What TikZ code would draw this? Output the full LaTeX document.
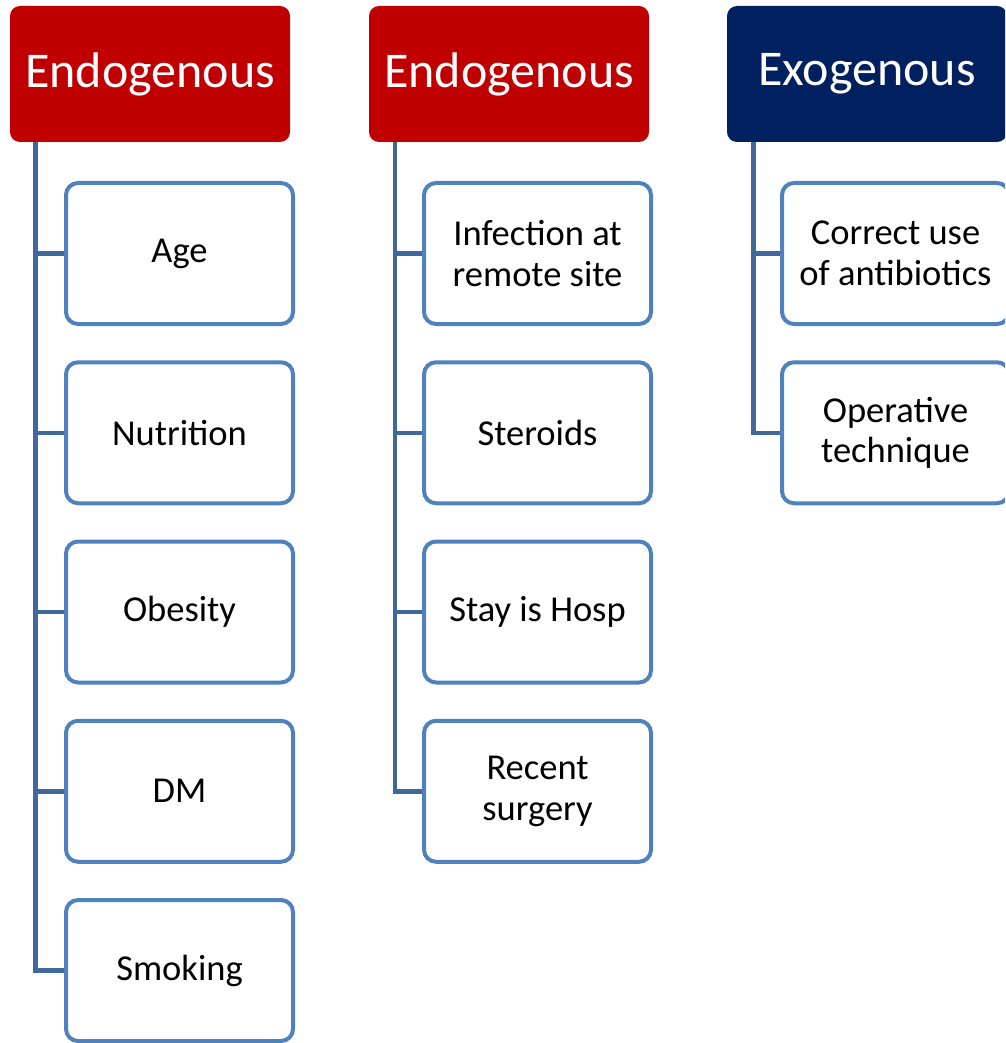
\documentclass[tikz,border=0pt]{standalone}
\usepackage{fontspec}
\setmainfont{Carlito}
\definecolor{hdred}{RGB}{192,0,0}
\definecolor{hdnavy}{RGB}{0,32,96}
\definecolor{boxblue}{RGB}{79,129,189}
\definecolor{connblue}{RGB}{65,104,155}
\begin{document}
\begin{tikzpicture}[x=1pt,y=-1pt,
  header/.style={rectangle, rounded corners=10pt, minimum width=280pt, minimum height=136pt,
    inner sep=0pt, text=white, font=\fontsize{50}{60}\selectfont},
  redhead/.style={header, fill=hdred},
  navyhead/.style={header, fill=hdnavy},
  item/.style={rectangle, rounded corners=12pt, draw=boxblue, line width=4pt, fill=white,
    minimum width=227pt, minimum height=141pt, inner sep=0pt, align=center,
    font=\fontsize{36.5}{40.5}\selectfont},
  conn/.style={draw=connblue, line width=4.5pt}
]
\useasboundingbox (0,0) rectangle (1005,1043);
\clip (0,0) rectangle (1005,1043);

% headers
\node[redhead] (h1) at (150,74) {Endogenous};
\node[redhead] (h2) at (509,74) {Endogenous};
\node[navyhead] (h3) at (867,74) {Exogenous};

% trunk tops
\coordinate (t1) at (35.5,142);
\coordinate (t2) at (395,142);
\coordinate (t3) at (753.5,142);

% column 1
\node[item] (a1) at (179.5,253.5) {Age};
\node[item] (a2) at (179.5,432.75) {Nutrition};
\node[item] (a3) at (179.5,612) {Obesity};
\node[item] (a4) at (179.5,791.25) {DM};
\node[item] (a5) at (179.5,970.5) {Smoking};

% column 2
\node[item] (b1) at (537.5,253.5) {Infection at\\remote site};
\node[item] (b2) at (537.5,432.75) {Steroids};
\node[item] (b3) at (537.5,612) {Stay is Hosp};
\node[item] (b4) at (537.5,791.25) {Recent\\surgery};

% column 3
\node[item] (c1) at (895.5,253.5) {Correct use\\of antibiotics};
\node[item] (c2) at (895.5,432.75) {Operative\\technique};

% connectors
\foreach \n in {a1,a2,a3,a4,a5} \draw[conn] (t1) |- (\n.west);
\foreach \n in {b1,b2,b3,b4} \draw[conn] (t2) |- (\n.west);
\foreach \n in {c1,c2} \draw[conn] (t3) |- (\n.west);
\end{tikzpicture}
\end{document}
